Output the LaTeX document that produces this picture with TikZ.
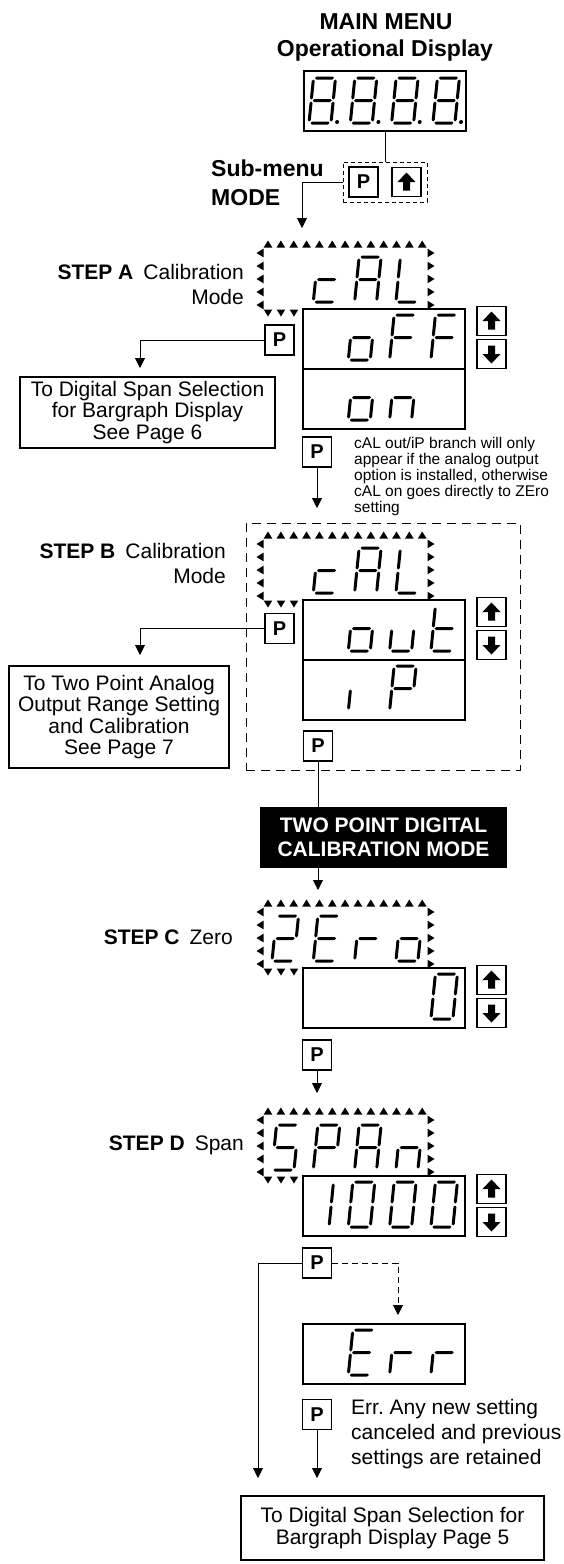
\documentclass[tikz,border=0pt]{standalone}
\usepackage{fontspec}
\setmainfont{Liberation Sans}
\usetikzlibrary{arrows.meta}

% type sizes
\newcommand{\ttlfont}{\fontsize{23}{29}\selectfont\bfseries}
\newcommand{\lblfont}{\fontsize{21}{25}\selectfont}
\newcommand{\bxfont}{\fontsize{21}{21.5}\selectfont}
\newcommand{\ntfont}{\fontsize{15.5}{16}\selectfont}

% one bar of a seven segment digit (pointed ends)
\newcommand{\hseg}[3]{\fill (#1,#3) -- (#1+1.5,#3-1.5) -- (#2-1.5,#3-1.5) -- (#2,#3) -- (#2-1.5,#3+1.5) -- (#1+1.5,#3+1.5) -- cycle;}
\newcommand{\vseg}[3]{\fill (#1,#2) -- (#1+1.5,#2+1.5) -- (#1+1.5,#3-1.5) -- (#1,#3) -- (#1-1.5,#3-1.5) -- (#1-1.5,#2+1.5) -- cycle;}

% seven segment pieces, origin at lower left of a digit
\newcommand{\segA}{\hseg{1.5}{20.5}{-45}}
\newcommand{\segB}{\vseg{22}{-43.5}{-23.5}}
\newcommand{\segC}{\vseg{22}{-21.5}{-1.5}}
\newcommand{\segD}{\hseg{1.5}{20.5}{0}}
\newcommand{\segE}{\vseg{0}{-21.5}{-1.5}}
\newcommand{\segF}{\vseg{0}{-43.5}{-23.5}}
\newcommand{\segG}{\hseg{1.5}{20.5}{-22.5}}
\newcommand{\segDP}{\fill (28,-1) circle (2);}

% characters
\newcommand{\dgEight}{\segA\segB\segC\segD\segE\segF\segG\segDP}
\newcommand{\dgc}{\segG\segE\segD}
\newcommand{\dgA}{\segA\segB\segC\segE\segF\segG}
\newcommand{\dgL}{\segF\segE\segD}
\newcommand{\dgo}{\segG\segC\segD\segE}
\newcommand{\dgF}{\segA\segF\segG\segE}
\newcommand{\dgn}{\segG\segC\segE}
\newcommand{\dgu}{\segC\segD\segE}
\newcommand{\dgt}{\segF\segE\segD\segG}
\newcommand{\dgi}{\segE}
\newcommand{\dgP}{\segA\segB\segF\segG\segE}
\newcommand{\dgTwo}{\segA\segB\segG\segE\segD}
\newcommand{\dgE}{\segA\segF\segG\segE\segD}
\newcommand{\dgr}{\segG\segE}
\newcommand{\dgZero}{\segA\segB\segC\segD\segE\segF}
\newcommand{\dgOne}{\segB\segC}
\newcommand{\dgS}{\segA\segF\segG\segC\segD}

\newcommand{\lcd}[3]{\begin{scope}[shift={(#1,#2)},xslant=0.1]#3\end{scope}}
% four digit read-out, #1,#2 = top left of its window
\newcommand{\readout}[6]{\lcd{#1+4}{#2+51}{#3}\lcd{#1+45.3}{#2+51}{#4}\lcd{#1+86.6}{#2+51}{#5}\lcd{#1+127.9}{#2+51}{#6}}

% flashing marks round a display
\newcommand{\blinkframe}[2]{%
  \foreach \n in {0,...,12}{\pic at (#1+8+12.85*\n,#2) {tri};}
  \foreach \m in {0,...,4}{\pic[rotate=90] at (#1,#2+9+13*\m) {tri};
    \pic[rotate=-90] at (#1+171,#2+9+13*\m) {tri};}
  \foreach \k in {0,1,2}{\pic[rotate=180] at (#1+8+13*\k,#2+69) {tri};}}

\tikzset{
  tri/.pic={\fill (-4.3,3.5) -- (4.3,3.5) -- (0,-3.5) -- cycle;},
  lcdbox/.style={draw, line width=1.1pt, minimum width=162pt, minimum height=60pt, inner sep=0pt},
  pkey/.style={draw, line width=1.1pt, minimum width=29pt, minimum height=30pt, inner sep=0pt, font=\fontsize{20}{20}\selectfont\bfseries},
  upkey/.style={draw, line width=1.1pt, minimum width=29pt, minimum height=29pt, inner sep=0pt,
    path picture={\fill[shift={(path picture bounding box.center)}] (0,-9.5) -- (9,0) -- (3.5,0) -- (3.5,8.5) -- (-3.5,8.5) -- (-3.5,0) -- (-9,0) -- cycle;}},
  dnkey/.style={draw, line width=1.1pt, minimum width=29pt, minimum height=29pt, inner sep=0pt,
    path picture={\fill[shift={(path picture bounding box.center)}] (0,9.5) -- (9,0) -- (3.5,0) -- (3.5,-8.5) -- (-3.5,-8.5) -- (-3.5,0) -- (-9,0) -- cycle;}},
  keyframe/.style={draw, dash pattern=on 4pt off 3pt, line width=1pt, minimum width=84pt, minimum height=40pt},
  dashframe/.style={draw, dash pattern=on 9pt off 6pt, line width=1pt},
  pagebox/.style={draw, line width=1.1pt, align=center, font=\bxfont, inner sep=0pt},
  darkbox/.style={fill=black, text=white, align=center, font=\fontsize{21}{24}\selectfont\bfseries, minimum width=247pt, minimum height=61pt, inner sep=0pt},
  wire/.style={line width=0.9pt},
  flow/.style={line width=0.9pt, -{Triangle[width=10pt,length=10pt]}}
}

\begin{document}
\begin{tikzpicture}[x=1pt,y=-1pt]
\useasboundingbox (0,0) rectangle (564,1564);
% main menu
\node[font=\ttlfont] (mainmenu) at (386,22) {MAIN MENU};
\node[font=\ttlfont] (opdisp) at (385,51) {Operational Display};
\node[lcdbox] (disp) at (385,101) {};
\readout{305}{72}{\dgEight}{\dgEight}{\dgEight}{\dgEight}
\node[keyframe] (keys) at (385,182) {};
\node[pkey] (pmain) at (363.5,182) {P};
\node[upkey] (upmain) at (406.5,182) {};
\draw[wire] (disp.south) -- (keys.north);
\node[font=\ttlfont, align=left, anchor=west, inner sep=0pt] (submenu) at (211,183) {Sub-menu\\MODE};
\coordinate (ain) at (302,228);
\draw[flow] (keys.west |- pmain) -| (ain);

% step A
\node[font=\lblfont, align=right, anchor=east, inner sep=0pt] (stepa) at (244,284.5) {\textbf{STEP A}\hspace{10pt}Calibration\\Mode};
\blinkframe{260}{244}
\readout{268}{251}{}{\dgc}{\dgA}{\dgL}
\node[lcdbox] (aoff) at (384,339) {};
\node[lcdbox] (aon) at (384,399) {};
\readout{303}{309}{}{\dgo}{\dgF}{\dgF}
\readout{303}{369}{}{\dgo}{\dgn}{}
\node[upkey] (aup) at (491.5,321) {};
\node[dnkey] (adn) at (491.5,354) {};
\node[pkey] (pa) at (279.5,340) {P};
\node[pagebox, minimum width=255pt, minimum height=71pt] (page6) at (147.5,412.5) {To Digital Span Selection\\for Bargraph Display\\See Page 6};
\coordinate (aleft) at (140,368);
\draw[flow] (pa.west) -| (aleft);
\node[pkey] (pa2) at (317,452) {P};
\node[font=\ntfont, align=left, anchor=west, inner sep=0pt] (anote) at (354,476) {cAL out/iP branch will only\\appear if the analog output\\option is installed, otherwise\\cAL on goes directly to ZEro\\setting};
\coordinate (bin) at (317,508);
\draw[flow] (pa2.south) -- (bin);

% step B
\node[dashframe, minimum width=274pt, minimum height=247pt] (outbranch) at (383,646.5) {};
\node[font=\lblfont, align=right, anchor=east, inner sep=0pt] (stepb) at (226,563) {\textbf{STEP B}\hspace{10pt}Calibration\\Mode};
\blinkframe{260}{535}
\readout{268}{542}{}{\dgc}{\dgA}{\dgL}
\node[lcdbox] (bout) at (384,630) {};
\node[lcdbox] (bip) at (384,690) {};
\readout{303}{600}{}{\dgo}{\dgu}{\dgt}
\readout{303}{660}{}{\dgi}{\dgP}{}
\node[upkey] (bup) at (491.5,612) {};
\node[dnkey] (bdn) at (491.5,645) {};
\node[pkey] (pb) at (279.5,628.5) {P};
\node[pagebox, minimum width=220pt, minimum height=102pt] (page7) at (119,717) {To Two Point Analog\\Output Range Setting\\and Calibration\\See Page 7};
\coordinate (bleft) at (140,655);
\draw[flow] (pb.west) -| (bleft);
\node[pkey] (pb2) at (318,746) {P};

% two point calibration
\node[darkbox] (twopt) at (383.5,837.5) {TWO POINT DIGITAL\\CALIBRATION MODE};
\draw[wire] (pb2.south) -- (pb2.south |- twopt.north);
\coordinate (cin) at (318,890);
\draw[flow] (pb2.south |- twopt.south) -- (cin);

% step C
\node[font=\lblfont, anchor=east, inner sep=0pt] (stepc) at (233,937) {\textbf{STEP C}\hspace{10pt}Zero};
\blinkframe{260}{903}
\readout{268}{910}{\dgTwo}{\dgE}{\dgr}{\dgo}
\node[lcdbox] (czero) at (384,998) {};
\readout{303}{968}{}{}{}{\dgZero}
\node[upkey] (cup) at (491.5,980) {};
\node[dnkey] (cdn) at (491.5,1013) {};
\node[pkey] (pc) at (317,1055) {P};
\coordinate (din) at (317,1093);
\draw[flow] (pc.south) -- (din);

% step D
\node[font=\lblfont, anchor=east, inner sep=0pt] (stepd) at (244,1145) {\textbf{STEP D}\hspace{10pt}Span};
\blinkframe{260}{1111}
\readout{268}{1119}{\dgS}{\dgP}{\dgA}{\dgn}
\node[lcdbox] (dspan) at (384,1206) {};
\readout{303}{1176}{\dgOne}{\dgZero}{\dgZero}{\dgZero}
\node[upkey] (dup) at (491.5,1189) {};
\node[dnkey] (ddn) at (491.5,1222) {};
\node[pkey] (pd) at (317,1263) {P};
\node[lcdbox] (derr) at (384,1354) {};
\readout{303}{1324}{}{\dgE}{\dgr}{\dgr}
\coordinate (errin) at (398,1315);
\draw[flow, dash pattern=on 6pt off 4pt] (pd.east) -| (errin);
\node[pkey] (pe) at (317,1414.5) {P};
\node[font=\lblfont, align=left, anchor=west, inner sep=0pt] (errnote) at (351,1434) {Err.\ Any new setting\\canceled and previous\\settings are retained};
\coordinate (endl) at (258,1478);
\coordinate (endr) at (317,1478);
\draw[flow] (pd.west) -| (endl);
\draw[flow] (pe.south) -- (endr);
\node[pagebox, line width=2.5pt, minimum width=303pt, minimum height=64pt] (page5) at (392.5,1528) {To Digital Span Selection for\\Bargraph Display Page 5};
\end{tikzpicture}
\end{document}
